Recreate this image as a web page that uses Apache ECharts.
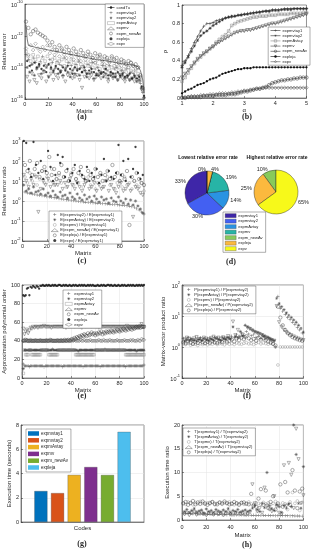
<!DOCTYPE html>
<html><head><meta charset="utf-8">
<script src="https://cdn.jsdelivr.net/npm/echarts@6.0.0/dist/echarts.min.js"></script>
<style>html,body{margin:0;padding:0;background:#fff}#c{width:311px;height:550px}</style>
</head><body><div id="c"></div>
<script>
// ---------- categories ----------
const matrixOdd = Array.from({length:50},(_,i)=>2*i+1);
const matrixEven = Array.from({length:50},(_,i)=>2*i+2);
const matrixAll = Array.from({length:100},(_,i)=>i+1);
const alpha = [1.0,1.1,1.2,1.3,1.4,1.5,1.6,1.7,1.8,1.9,2.0,2.1,2.2,2.3,2.4,2.5,2.6,2.7,2.8,2.9,3.0,3.1,3.2,3.3,3.4,3.5,3.6,3.7,3.8,3.9,4.0,4.1,4.2,4.3,4.4,4.5,4.6,4.7,4.8,4.9,5.0];
const codeNames = ['expmvtay1','expmvtay2','expmAvtay','expmv','expm_newAv','expleja','expv'];

// ---------- (a) relative error, log10 values ----------
const a_condTu_matrix = [1,2,3,10,20,30,40,50,60,70,80,90,95,97,99,100];
const a_condTu_log10 = [-11.3,-12.2,-12.6,-12.75,-12.9,-13.05,-13.2,-13.35,-13.5,-13.6,-13.75,-13.85,-13.95,-14.2,-14.8,-15.6];
const a_expmvtay1_log10 = [-13.2,-13.5,-13.9,-13.4,-13.7,-14.0,-13.6,-13.3,-13.8,-13.9,
 -13.5,-13.7,-14.1,-13.6,-13.8,-13.9,-13.4,-14.0,-13.7,-13.9,
 -14.1,-13.8,-13.6,-14.0,-13.9,-14.2,-13.8,-14.0,-13.7,-14.1,
 -14.0,-14.3,-13.9,-14.1,-14.2,-13.9,-14.3,-14.1,-14.0,-14.4,
 -14.2,-14.3,-14.1,-14.5,-14.3,-14.4,-14.6,-14.5,-15.0,-15.6];
const a_expmvtay2_log10 = [-14.0,-14.3,-13.8,-14.5,-14.1,-13.9,-14.4,-14.2,-14.0,-14.6,
 -14.1,-14.3,-14.0,-14.4,-14.2,-14.5,-14.1,-14.3,-14.6,-14.2,
 -14.4,-14.1,-14.5,-14.3,-14.2,-14.6,-14.4,-14.3,-14.7,-14.4,
 -14.5,-14.3,-14.6,-14.4,-14.7,-14.5,-14.6,-14.4,-14.8,-14.6,
 -14.5,-14.7,-14.6,-14.8,-14.7,-14.6,-14.9,-14.8,-15.3,-15.9];
const a_expmAvtay_log10 = [-13.0,-13.3,-13.6,-13.2,-13.5,-13.3,-13.7,-13.4,-13.6,-13.3,
 -13.8,-13.5,-13.4,-13.7,-13.6,-13.5,-13.9,-13.6,-13.8,-13.5,
 -13.7,-13.9,-13.6,-13.8,-14.0,-13.7,-13.9,-13.8,-14.0,-13.7,
 -13.9,-14.1,-13.8,-14.0,-13.9,-14.2,-14.0,-13.9,-14.1,-14.0,
 -14.2,-14.1,-14.3,-14.0,-14.2,-14.3,-14.2,-14.4,-14.8,-15.5];
const a_expmv_log10 = [-14.6,-14.9,-14.4,-14.8,-15.0,-14.5,-14.7,-14.3,-14.9,-14.6,
 -14.4,-14.8,-14.5,-14.7,-14.3,-14.6,-14.9,-14.5,-14.4,-14.7,
 -14.6,-14.5,-14.8,-15.3,-14.6,-14.4,-14.7,-14.5,-14.8,-14.6,
 -14.5,-14.7,-14.4,-14.6,-14.9,-14.5,-14.7,-14.6,-14.8,-14.5,
 -14.7,-14.9,-14.6,-14.8,-14.7,-14.9,-14.8,-14.9,-15.4,-16.0];
const a_expm_newAv_log10 = [-11.1,-11.5,-11.9,-11.7,-11.6,-11.8,-11.9,-12.0,-12.1,-12.3,
 -12.6,-12.4,-12.7,-12.9,-12.6,-12.8,-13.0,-12.7,-12.9,-13.1,
 -12.8,-13.0,-13.2,-12.9,-13.1,-13.3,-13.0,-13.2,-13.4,-13.1,
 -13.3,-13.2,-13.5,-13.3,-13.4,-13.6,-13.3,-13.5,-13.4,-13.7,
 -13.5,-13.6,-13.8,-13.6,-13.7,-13.9,-13.8,-14.0,-14.5,-15.3];
const a_expleja_log10 = [-13.6,-13.9,-14.2,-13.7,-14.0,-13.8,-14.1,-13.9,-14.3,-13.8,
 -14.0,-14.2,-13.9,-14.1,-14.3,-14.0,-14.2,-13.9,-14.1,-14.4,
 -14.0,-14.2,-14.1,-14.3,-14.0,-14.4,-14.2,-14.1,-14.3,-14.5,
 -14.2,-14.4,-14.3,-14.1,-14.5,-14.3,-14.4,-14.6,-14.3,-14.5,
 -14.4,-14.6,-14.5,-14.4,-14.7,-14.5,-14.7,-14.6,-15.2,-15.8];
const a_expv_log10 = [-12.8,-13.2,-12.6,-12.9,-12.5,-12.8,-13.0,-12.7,-12.9,-12.6,
 -13.1,-12.9,-13.2,-13.0,-13.3,-12.9,-13.2,-13.4,-13.1,-13.3,
 -13.5,-13.2,-13.4,-13.6,-13.3,-13.5,-13.2,-13.6,-13.4,-13.7,
 -13.5,-13.3,-13.6,-13.8,-13.5,-13.7,-13.4,-13.6,-13.8,-13.6,
 -13.9,-13.7,-13.8,-14.0,-13.7,-13.9,-14.1,-14.0,-14.6,-15.4];

// ---------- (b) performance profile rho(alpha) ----------
const b_expmvtay1 = [.35,.40,.46,.53,.60,.66,.72,.77,.80,.80,.81,.83,.84,.85,.86,.87,.87,.88,.89,.90,.90,.91,.91,.92,.92,.93,.93,.94,.94,.95,.95,.95,.95,.96,.96,.96,.96,.96,.96,.96,.96];
const b_expmvtay2 = [.33,.38,.44,.50,.56,.62,.67,.70,.72,.75,.78,.80,.82,.84,.86,.87,.88,.88,.89,.89,.90,.90,.91,.91,.92,.92,.93,.93,.93,.94,.94,.94,.95,.95,.95,.95,.96,.96,.96,.96,.96];
const b_expmAvtay = [.18,.22,.27,.32,.37,.41,.44,.47,.50,.53,.56,.60,.63,.66,.68,.72,.78,.80,.82,.83,.84,.85,.86,.87,.87,.88,.88,.88,.89,.89,.89,.90,.90,.90,.90,.91,.91,.91,.91,.92,.92];
const b_expmv = [.22,.26,.30,.34,.38,.42,.45,.48,.50,.53,.55,.58,.60,.62,.64,.66,.68,.70,.71,.72,.72,.73,.73,.74,.75,.76,.77,.78,.79,.80,.80,.81,.82,.83,.84,.85,.86,.87,.88,.89,.90];
const b_expm_newAv = [.00,.00,.01,.01,.01,.01,.01,.02,.02,.02,.02,.03,.03,.03,.03,.04,.04,.04,.05,.06,.07,.07,.08,.09,.10,.10,.11,.12,.14,.16,.17,.18,.19,.19,.20,.20,.21,.21,.22,.22,.22];
const b_expleja = [.05,.07,.09,.10,.12,.14,.15,.16,.18,.20,.21,.22,.24,.26,.27,.28,.29,.30,.31,.31,.32,.32,.32,.33,.33,.33,.33,.33,.33,.33,.33,.33,.33,.33,.33,.33,.33,.33,.33,.33,.33];
const b_expv = [.01,.01,.01,.02,.02,.02,.03,.03,.03,.04,.04,.04,.05,.05,.05,.05,.06,.06,.07,.07,.08,.08,.09,.09,.10,.10,.11,.11,.11,.11,.11,.11,.11,.11,.11,.11,.11,.11,.11,.11,.11];

// ---------- (c) relative error ratio, log10 values ----------
const c_r_expmvtay2_log10 = [0.45,0.40,0.38,0.35,0.33,0.30,0.28,0.27,0.25,0.22,
 0.20,0.18,0.16,0.15,0.12,0.10,0.08,0.06,0.05,0.03,
 0.02,0.00,-0.02,-0.03,-0.05,-0.06,-0.07,-0.08,-0.09,-0.10,
 -0.11,-0.12,-0.13,-0.14,-0.15,-0.16,-0.17,-0.18,-0.19,-0.20,
 -0.21,-0.22,-0.24,-0.26,-0.28,-0.32,-0.38,-0.45,-0.55,-0.65];
const c_r_expmAvtay_log10 = [0.8,0.5,0.6,0.4,0.7,0.45,0.5,0.35,0.6,0.3,
 0.4,0.25,0.5,0.3,0.2,0.45,0.25,0.3,0.15,0.4,
 0.2,0.1,0.35,0.15,0.05,0.3,0.1,0.2,0.0,0.25,
 0.1,-0.05,0.2,0.05,0.1,-0.1,0.15,0.0,-0.05,0.2,
 0.0,-0.1,0.1,-0.15,0.05,-0.2,0.0,-0.25,-0.4,-0.6];
const c_r_expmv_log10 = [1.2,0.9,1.4,1.0,1.3,0.8,1.1,1.5,0.9,1.2,
 1.0,1.6,0.8,1.1,1.3,0.9,1.2,0.7,1.0,1.4,
 0.8,1.1,0.9,1.3,0.7,1.0,1.2,0.8,1.1,0.6,
 0.9,1.3,0.7,1.0,1.2,0.8,1.1,0.6,0.9,1.0,
 0.7,1.2,0.8,0.9,0.6,1.0,0.8,0.7,0.9,0.5];
const c_r_expm_newAv_log10 = [1.3,1.0,0.7,1.1,0.8,1.2,-0.55,0.6,1.0,0.8,
 1.1,0.7,0.9,0.8,0.8,1.0,0.6,0.9,0.7,1.1,
 0.8,0.6,0.9,0.7,0.5,0.8,1.0,0.6,0.7,0.9,
 0.5,0.8,0.6,0.7,1.0,0.5,0.8,0.6,0.4,0.7,
 0.9,0.5,0.6,0.8,0.5,-0.8,0.7,0.6,0.4,0.3];
const c_r_expleja_log10 = [1.8,1.5,2.0,1.3,1.6,1.9,1.2,1.5,1.7,1.4,
 2.2,1.3,1.6,1.1,1.4,1.8,1.2,1.5,1.0,1.3,
 1.6,1.1,1.4,1.7,1.2,1.0,1.5,1.3,1.1,1.6,
 1.2,1.4,1.0,1.3,1.5,1.1,1.8,1.2,1.4,1.0,
 1.3,1.1,1.5,-1.2,1.2,1.0,1.4,1.1,0.9,0.8];
const c_r_expv_log10 = [3.0,2.9,1.6,1.2,2.95,1.8,1.4,2.0,1.1,1.5,
 2.5,1.7,1.0,1.3,2.3,1.9,2.2,1.2,1.6,1.0,
 1.4,1.8,0.9,1.5,1.3,1.1,1.7,1.0,1.4,1.2,
 1.6,0.9,1.3,2.1,1.0,1.5,1.2,1.1,1.4,2.8,
 1.3,2.0,1.0,2.1,1.2,1.6,2.7,1.4,1.1,1.3];

// ---------- (d) pie percentages ----------
const d_lowest = [33,30,14,19,0,4,0];
const d_highest = [0,0,0,0,10,25,65];

// ---------- (e) approximation polynomial order ----------
const e_expmvtay1 = [15,13,13,13,13,12,13,13,13,13, 13,13,13,13,13,13,13,12,13,13, 13,13,13,13,13,13,13,13,13,13, 13,13,12,13,13,13,13,13,13,13, 13,13,13,13,13,13,13,13,13,12,
 13,13,13,13,13,13,13,13,13,13, 13,13,13,12,13,13,13,13,13,13, 13,13,13,13,13,13,13,13,13,13, 13,13,13,13,12,13,13,13,13,13, 13,13,13,13,13,13,13,13,13,14];
const e_expmvtay2 = [10,30,30,30,30,30,30,30,30,30, 30,30,30,30,30,30,30,30,30,30, 30,30,30,30,31,30,30,30,30,30, 30,30,30,30,30,30,30,30,30,30, 30,30,30,30,30,29,30,30,30,30,
 30,30,30,30,30,30,30,30,30,30, 30,30,30,30,30,30,30,31,30,30, 30,30,30,30,30,30,30,30,30,30, 30,30,30,30,30,30,30,30,30,30, 30,30,30,29,30,30,30,30,30,30];
const e_expmAvtay = [5,30,25,25,25,30,30,25,25,25, 25,25,25,25,25,30,30,30,30,30, 30,25,25,25,25,25,25,25,25,30, 30,30,30,30,30,30,30,30,30,30, 30,30,30,25,25,25,25,25,25,25,
 25,25,25,25,25,25,25,25,25,30, 30,30,30,30,30,30,30,30,30,30, 30,30,30,30,30,30,30,30,30,30, 30,30,30,30,25,25,25,25,25,25, 25,25,25,25,25,25,25,25,25,25];
const e_expmv = [53,47,50,52,48,51,54,53,55,54, 55,55,54,55,55,55,55,56,55,55, 55,55,55,54,55,55,55,55,55,55, 55,55,55,55,55,54,55,55,55,55, 55,55,55,55,55,55,55,55,54,55,
 55,55,55,55,55,55,55,55,55,55, 55,55,54,55,55,55,55,55,55,55, 55,55,55,55,55,55,55,55,55,55, 55,55,55,55,55,56,55,55,55,55, 55,55,55,55,55,55,56,58,55,55];
const e_expm_newAv = [40,40,41,40,40,40,40,40,40,40, 40,40,40,40,40,40,40,40,40,40, 40,40,41,40,40,40,40,40,40,40, 40,40,40,40,41,40,40,41,40,41, 42,41,43,42,44,43,45,44,46,45,
 47,46,45,48,46,47,49,47,48,46, 48,47,49,48,50,47,49,48,50,49, 50,49,51,50,49,51,50,52,51,50, 52,51,53,52,51,53,52,54,53,52, 54,53,54,55,54,55,54,55,55,55];
const e_expleja = [89,88,89,96,97,89,98,97,99,98, 97,99,98,96,99,99,100,99,99,100, 99,100,99,99,100,99,100,99,99,100, 100,99,99,100,99,100,99,99,100,99, 99,100,99,100,99,99,100,99,100,99,
 100,99,99,100,99,100,99,100,99,99, 99,100,99,99,100,99,100,99,99,100, 100,99,100,99,99,100,99,99,100,99, 99,100,99,100,99,99,100,99,100,99, 100,99,99,100,99,100,99,100,99,100];
const e_expv = [40,41,40,41,40,40,41,40,40,40, 41,40,40,40,41,40,40,40,40,41, 40,40,40,41,40,40,40,40,41,40, 40,41,40,40,40,40,41,40,40,40, 40,40,41,40,40,40,40,41,40,40,
 41,40,40,40,40,41,40,40,40,40, 40,40,41,40,40,40,41,40,40,40, 40,41,40,40,40,40,40,41,40,40, 40,40,40,41,40,40,40,40,41,40, 41,40,40,40,41,40,40,42,41,41];

// ---------- (f) matrix-vector product ratio, log10 values ----------
const f_p_expmvtay1_log10 = [0.28,0.22,0.30,0.25,0.20,0.27,0.24,0.30,0.22,0.26, 0.23,0.28,0.25,0.30,0.27,0.24,0.32,0.26,0.30,0.28, 0.35,0.30,0.40,0.33,0.45,0.38,0.50,0.42,0.36,0.40, 0.30,0.35,0.28,0.33,0.26,0.30,0.24,0.20,0.0,1.63, 1.25,1.15,1.05,0.95,0.88,0.80,0.72,0.62,0.55,0.45];
const f_p_expmAvtay_log10 = [0.18,0.24,0.20,0.26,0.22,0.19,0.25,0.21,0.27,0.23, 0.20,0.26,0.22,0.28,0.24,0.21,0.27,0.25,0.30,0.26, 0.65,0.34,0.30,0.50,0.36,0.70,0.65,0.60,0.55,0.50, 0.47,0.44,0.40,0.36,0.32,0.28,0.25,0.20,1.57,1.40, 1.30,1.20,1.10,1.02,0.95,0.87,0.80,0.70,0.60,0.48];
const f_p_expmv_log10 = [0.10,0.08,0.12,0.06,0.10,0.09,0.05,0.11,0.08,0.12, 0.07,0.10,0.09,0.13,0.08,0.11,0.10,0.07,0.12,0.09, 0.11,0.08,0.13,0.10,0.09,0.12,0.14,0.10,0.11,0.08, 0.12,0.15,0.10,0.13,0.11,0.09,0.12,0.10,0.00,-0.58, 0.00,0.00,0.00,0.00,0.00,0.00,0.00,0.00,0.00,0.00];
const f_p_expm_newAv_log10 = [0.25,0.30,0.27,0.22,0.28,0.32,0.26,0.24,0.30,0.27, 0.25,0.29,0.33,0.28,0.30,0.26,0.31,0.28,0.35,0.30, 0.82,0.38,0.55,0.33,0.40,0.30,0.62,0.58,0.53,0.48, 0.45,0.42,0.38,0.33,0.30,0.26,0.22,0.20,1.32,0.80, 0.65,0.55,0.48,0.42,0.38,0.34,0.30,0.27,0.24,0.22];
const f_p_expleja_log10 = [0.15,0.12,0.18,0.14,0.10,0.16,0.13,0.20,0.15,0.12, 0.17,0.14,0.19,0.15,0.13,0.18,0.16,0.22,0.17,0.20, 0.24,0.18,0.28,0.22,0.30,0.25,0.35,0.28,0.22,0.26, 0.20,0.30,0.24,0.28,0.22,0.18,0.15,0.10,0.05,1.30, 0.95,0.70,0.55,0.45,0.38,0.32,0.28,0.25,0.22,0.20];

// ---------- (g) execution time (seconds) ----------
const g_codes = ['expmvtay1','expmvtay2','expmAvtay','expmv','expm_newAv','expleja'];
const g_time = [2.55,2.38,3.88,4.53,3.87,7.43];

// ---------- (h) execution time ratio ----------
const h_t_expmvtay1 = [1.4,1.35,1.3,1.32,1.28,1.3,1.25,1.27,1.22,1.25, 1.2,1.22,1.18,1.2,1.15,1.17,1.13,1.15,1.1,1.12, 1.08,1.1,1.06,1.08,1.05,1.06,1.03,1.04,1.0,1.02, 0.99,1.0,0.97,0.98,0.95,0.96,0.94,0.95,0.92,0.93, 0.9,0.91,0.89,0.9,0.87,0.88,0.86,0.85,0.84,0.82];
const h_t_expmAvtay = [1.8,2.2,1.6,2.0,2.4,1.7,1.9,2.1,1.5,2.3, 1.8,2.0,1.6,2.2,1.9,1.7,2.1,1.8,2.4,1.6, 2.0,1.8,2.2,1.7,1.9,2.1,1.8,2.0,2.5,3.0, 2.2,1.8,3.5,2.6,10.0,3.0,2.4,2.0,3.2,2.8, 1.6,3.0,2.5,3.4,2.8,20.0,13.8,3.5,2.5,11.2];
const h_t_expmv = [3.6,3.3,3.8,3.5,3.2,3.7,3.4,3.9,3.5,3.3, 3.6,3.4,3.8,3.2,3.5,3.7,3.3,3.6,3.4,3.8, 3.5,3.2,3.6,3.4,3.7,3.3,3.5,3.8,3.4,3.2, 3.6,3.5,3.3,3.7,3.4,3.6,3.2,3.5,3.9,3.3, 3.0,3.6,3.4,2.2,3.8,5.8,3.5,4.0,2.0,3.7];
const h_t_expm_newAv = [1.2,1.5,1.0,1.4,1.7,1.1,1.3,1.6,1.2,1.0, 1.4,1.3,1.1,1.5,1.2,1.4,1.0,1.3,1.6,1.2, 1.1,1.5,1.3,1.2,1.4,1.1,1.3,1.6,7.5,3.5, 1.8,2.5,1.5,6.8,3.0,2.2,1.8,5.0,2.8,1.5, 1.2,11.5,3.0,12.0,9.5,2.5,19.2,12.8,3.5,5.2];
const h_t_expleja = [3.5,3.8,3.2,3.6,4.0,3.3,3.7,3.4,3.9,3.5, 3.2,3.6,3.8,3.4,3.3,3.7,3.5,3.9,3.6,3.3, 3.4,3.8,3.5,3.2,3.6,3.7,3.4,3.3,5.5,3.0, 2.8,4.5,6.5,3.2,6.2,2.5,3.8,5.0,2.2,3.5, 7.5,2.8,8.0,5.8,3.2,10.5,6.2,2.5,6.0,6.6];

// ================= styling & building =================
const TXT = '#262626', FONT = '"Liberation Sans", Arial, sans-serif', GRIDC = '#e2e2e2';
const PARULA = ['#3E26A8','#4360F2','#2A93E2','#27B4A6','#88CA5B','#FBB93E','#F7F91A'];
const BARC = ['#0072BD','#D95319','#EDB120','#7E2F8E','#77AC30','#4DBEEE'];
const P_PLUS = 'path://M0,4.3H10V5.7H0Z M4.3,0H5.7V10H4.3Z';
const P_STAR = 'path://M0,4.4H10V5.6H0Z M4.4,0H5.6V10H4.4Z M1.2,2L2,1.2L8.8,8L8,8.8Z M8,1.2L8.8,2L2,8.8L1.2,8Z';
const ST = {
  plus:{symbol:P_PLUS,size:3.2,color:'#333'},
  star:{symbol:P_STAR,size:3.4,color:'#333'},
  square:{symbol:'rect',size:2.7,color:'#888',hollow:true},
  tri:{symbol:'triangle',size:3.2,color:'#444',hollow:true,rotate:180},
  circ:{symbol:'circle',size:3.4,color:'#333',hollow:true},
  dot:{symbol:'circle',size:2.3,color:'#111'},
  diam:{symbol:'diamond',size:3.6,color:'#555',hollow:true},
  scirc:{symbol:'circle',size:2.8,color:'#8a8a8a',hollow:true}
};
function itemSt(s){ return s.hollow ? {color:'rgba(0,0,0,0)', borderColor:s.color, borderWidth:0.5} : {color:s.color}; }
function sc(name, gi, xs, ys, s){
  return {type:'scatter', name, xAxisIndex:gi, yAxisIndex:gi, data: ys.map((v,i)=>[xs[i],v]),
    symbol:s.symbol, symbolSize:s.size, symbolRotate:s.rotate||0, itemStyle:itemSt(s), silent:true};
}
function ln(name, gi, xs, ys, s){
  return {type:'line', name, xAxisIndex:gi, yAxisIndex:gi, data: ys.map((v,i)=>[xs[i],v]),
    symbol:s?s.symbol:'none', symbolSize:s?s.size:0, symbolRotate:s?(s.rotate||0):0, showSymbol:!!s,
    itemStyle:s?itemSt(s):{color:'#222'}, lineStyle:{color:s?s.color:'#222', width:0.6}, silent:true};
}
const expFmt = v => '{b|10}{s|' + v + '}';
const expRich = {b:{fontSize:5.5,color:TXT,fontFamily:FONT,padding:[2.5,0,0,0],verticalAlign:'bottom'},
                 s:{fontSize:4,color:TXT,fontFamily:FONT,verticalAlign:'top'}};
function axis(gi, min, max, interval, o){
  o = o || {};
  return {type:'value', gridIndex:gi, min, max, interval,
    name:o.name||'', nameLocation:'middle', nameGap:o.nameGap||10,
    nameTextStyle:{fontSize:6, color:TXT, fontFamily:FONT},
    axisLine:{show:true, onZero:false, lineStyle:{color:TXT,width:0.5}},
    axisTick:{show:true, inside:true, length:2, lineStyle:{color:TXT,width:0.5}},
    axisLabel:Object.assign({fontSize:5.5, color:TXT, fontFamily:FONT, margin:o.margin||2}, o.exp?{formatter:expFmt,rich:expRich}:{}),
    splitLine:{show:!!o.grid, lineStyle:{color:GRIDC, width:0.5}}};
}
function legend(names, pos, o){
  return Object.assign({data:names, orient:'vertical', itemWidth:7, itemHeight:3, itemGap:1.2,
    textStyle:{fontSize:4.1, color:TXT, fontFamily:FONT, padding:[0,0,0,-3]},
    itemStyle:{borderWidth:0.5}, lineStyle:{width:0.6},
    backgroundColor:'#fff', borderColor:'#333', borderWidth:0.4, borderRadius:0, padding:[1.5,3,1.5,2],
    formatter:n=>n.slice(2), selectedMode:false}, pos, o||{});
}

const series = [];
// (a) grid 0
series.push(ln('a|condTu',0,a_condTu_matrix,a_condTu_log10,null));
series.push(sc('a|expmvtay1',0,matrixOdd,a_expmvtay1_log10,ST.plus));
series.push(sc('a|expmvtay2',0,matrixEven,a_expmvtay2_log10,ST.star));
series.push(sc('a|expmAvtay',0,matrixOdd,a_expmAvtay_log10,ST.square));
series.push(sc('a|expmv',0,matrixEven,a_expmv_log10,ST.tri));
series.push(sc('a|expm_newAv',0,matrixOdd,a_expm_newAv_log10,ST.circ));
series.push(sc('a|expleja',0,matrixEven,a_expleja_log10,ST.dot));
series.push(sc('a|expv',0,matrixOdd,a_expv_log10,ST.diam));
// (b) grid 1
const bData = [b_expmvtay1,b_expmvtay2,b_expmAvtay,b_expmv,b_expm_newAv,b_expleja,b_expv];
const bSt = [ST.plus,ST.star,ST.square,ST.tri,ST.circ,ST.dot,ST.diam];
codeNames.forEach((n,i)=>series.push(ln('b|'+n,1,alpha,bData[i],bSt[i])));
// (c) grid 2
const cNames = ['c|E(expmvtay2) / E(expmvtay1)','c|E(expmAvtay) / E(expmvtay1)','c|E(expmv) / E(expmvtay1)','c|E(expm_newAv) / E(expmvtay1)','c|E(expleja) / E(expmvtay1)','c|E(expv) / E(expmvtay1)'];
series.push(sc(cNames[0],2,matrixEven,c_r_expmvtay2_log10,ST.plus));
series.push(sc(cNames[1],2,matrixOdd,c_r_expmAvtay_log10,ST.star));
series.push(sc(cNames[2],2,matrixEven,c_r_expmv_log10,ST.scirc));
series.push(sc(cNames[3],2,matrixOdd,c_r_expm_newAv_log10,ST.tri));
series.push(sc(cNames[4],2,matrixEven,c_r_expleja_log10,ST.circ));
series.push(sc(cNames[5],2,matrixOdd,c_r_expv_log10,ST.dot));
// (e) grid 3
const eData = [e_expmvtay1,e_expmvtay2,e_expmAvtay,e_expmv,e_expm_newAv,e_expleja,e_expv];
const eSt = [ST.plus,ST.star,ST.square,ST.tri,ST.circ,ST.dot,ST.diam];
codeNames.forEach((n,i)=>series.push(sc('e|'+n,3,matrixAll,eData[i],eSt[i])));
// (f) grid 4
const fNames = ['f|P(expmvtay1) / P(expmvtay2)','f|P(expmAvtay) / P(expmvtay2)','f|P(expmv) / P(expmvtay2)','f|P(expm_newAv) / P(expmvtay2)','f|P(expleja) / P(expmvtay2)'];
series.push(sc(fNames[0],4,matrixOdd,f_p_expmvtay1_log10,ST.plus));
series.push(sc(fNames[1],4,matrixEven,f_p_expmAvtay_log10,ST.star));
series.push(sc(fNames[2],4,matrixOdd,f_p_expmv_log10,ST.scirc));
series.push(sc(fNames[3],4,matrixEven,f_p_expm_newAv_log10,ST.tri));
series.push(sc(fNames[4],4,matrixOdd,f_p_expleja_log10,ST.circ));
// (g) grid 5
g_codes.forEach((n,i)=>series.push({type:'bar', name:'g|'+n, xAxisIndex:5, yAxisIndex:5, data:[g_time[i]],
  barWidth:13, barGap:'28%', itemStyle:{color:BARC[i], borderColor:'#444', borderWidth:0.3}, silent:true}));
// (h) grid 6
const hNames = ['h|T(expmvtay1) / T(expmvtay2)','h|T(expmAvtay) / T(expmvtay2)','h|T(expmv) / T(expmvtay2)','h|T(expm_newAv) / T(expmvtay2)','h|T(expleja) / T(expmvtay2)'];
series.push(sc(hNames[0],6,matrixOdd,h_t_expmvtay1,ST.plus));
series.push(sc(hNames[1],6,matrixEven,h_t_expmAvtay,ST.star));
series.push(sc(hNames[2],6,matrixOdd,h_t_expmv,ST.scirc));
series.push(sc(hNames[3],6,matrixEven,h_t_expm_newAv,ST.tri));
series.push(sc(hNames[4],6,matrixOdd,h_t_expleja,ST.circ));
// (d) pies
function pieSeries(center, values, zeroShown){
  return {type:'pie', center, radius:22, clockwise:false, startAngle:90, avoidLabelOverlap:false, silent:true,
    label:{show:true, position:'outside', fontSize:5.5, color:TXT, fontFamily:FONT, formatter:p=>p.value+'%', distanceToLabelLine:1},
    labelLine:{show:false, length:1.5, length2:0},
    itemStyle:{borderColor:'#1a1a1a', borderWidth:0.4},
    data: values.map((v,i)=>({name:'d|'+codeNames[i], value:v, itemStyle:{color:PARULA[i]},
      label:{show: v>0 || zeroShown.indexOf(i)>=0}}))};
}
series.push(pieSeries([207,193], d_lowest, [6]));
series.push(pieSeries([276,192], d_highest, [0,1,2,3]));

const grids = [
  {left:22, top:4, width:122, height:95},
  {left:182, top:5, width:128, height:93},
  {left:21, top:141, width:123, height:100},
  {left:22, top:285, width:122, height:93},
  {left:182, top:285, width:128, height:93},
  {left:21, top:425, width:123, height:97},
  {left:182, top:425, width:128, height:95}
].map(g=>Object.assign({show:true, borderColor:TXT, borderWidth:0.5, backgroundColor:'#fff'}, g));

const xAxes = [
  axis(0,0,100,20,{name:'Matrix',nameGap:8}),
  axis(1,1,5,1,{name:'α',nameGap:8}),
  axis(2,0,100,20,{name:'Matrix',nameGap:8,grid:true}),
  axis(3,0,100,20,{name:'Matrix',nameGap:8,grid:true}),
  axis(4,0,100,20,{name:'Matrix',nameGap:8,grid:true}),
  {type:'category', gridIndex:5, data:['Codes'], axisTick:{show:false},
    axisLine:{show:true,lineStyle:{color:TXT,width:0.5}},
    axisLabel:{fontSize:6,color:TXT,fontFamily:FONT,margin:3}},
  axis(6,0,100,20,{name:'Matrix',nameGap:12,grid:true,margin:4})
];
const yAxes = [
  axis(0,-16,-10,2,{name:'Relative error',nameGap:13,exp:true}),
  axis(1,0,1,0.2,{name:'ρ',nameGap:7}),
  axis(2,-2,3,1,{name:'Relative error ratio',nameGap:13,exp:true,grid:true}),
  axis(3,0,100,20,{name:'Approximation polynomial order',nameGap:11,grid:true}),
  axis(4,-1,2,1,{name:'Matrix-vector product ratio',nameGap:13,exp:true,grid:true}),
  axis(5,0,8,2,{name:'Execution time (seconds)',nameGap:6,grid:true}),
  axis(6,0,20,5,{name:'Execution time ratio',nameGap:10,grid:true})
];

const legends = [
  legend(['a|condTu','a|expmvtay1','a|expmvtay2','a|expmAvtay','a|expmv','a|expm_newAv','a|expleja','a|expv'],{right:167,top:4}),
  legend(codeNames.map(n=>'b|'+n),{right:1,top:27},{itemWidth:10}),
  legend(cNames,{left:49,top:211}),
  legend(codeNames.map(n=>'d|'+n),{left:223,top:212},{icon:'rect',itemWidth:11,itemHeight:4,itemGap:1.2,itemStyle:{borderColor:'#333',borderWidth:0.3}}),
  legend(codeNames.map(n=>'e|'+n),{left:63,top:290}),
  legend(fNames,{left:183,top:286}),
  legend(g_codes.map(n=>'g|'+n),{left:26,top:429},{icon:'rect',itemWidth:11,itemHeight:4.5,itemGap:1.8,
    textStyle:{fontSize:4.5, color:TXT, fontFamily:FONT, padding:[0,0,0,-3]}, itemStyle:{borderWidth:0}, padding:[2,3,2,2]}),
  legend(hNames,{left:183,top:428})
];

function cap(t,x,y){ return {type:'text', x, y, style:{text:t, fill:TXT, font:'bold 8px "Liberation Serif", serif', textAlign:'center', textVerticalAlign:'middle'}}; }
function ttl(t,x,y){ return {type:'text', x, y, style:{text:t, fill:'#111', font:'bold 5px "Liberation Sans", Arial, sans-serif', textAlign:'center', textVerticalAlign:'middle'}}; }
const graphic = [
  cap('(a)',82,117), cap('(b)',247,117), cap('(c)',82,261), cap('(d)',231,262),
  cap('(e)',82,396), cap('(f)',247,396), cap('(g)',82,544), cap('(h)',247,545),
  ttl('Lowest relative error rate',208,158), ttl('Highest relative error rate',277,158)
];

const chart = echarts.init(document.getElementById('c'), null, {renderer:'canvas'});
chart.setOption({animation:false, backgroundColor:'#fff', textStyle:{fontFamily:FONT},
  grid:grids, xAxis:xAxes, yAxis:yAxes, legend:legends, series, graphic});
</script></body></html>
